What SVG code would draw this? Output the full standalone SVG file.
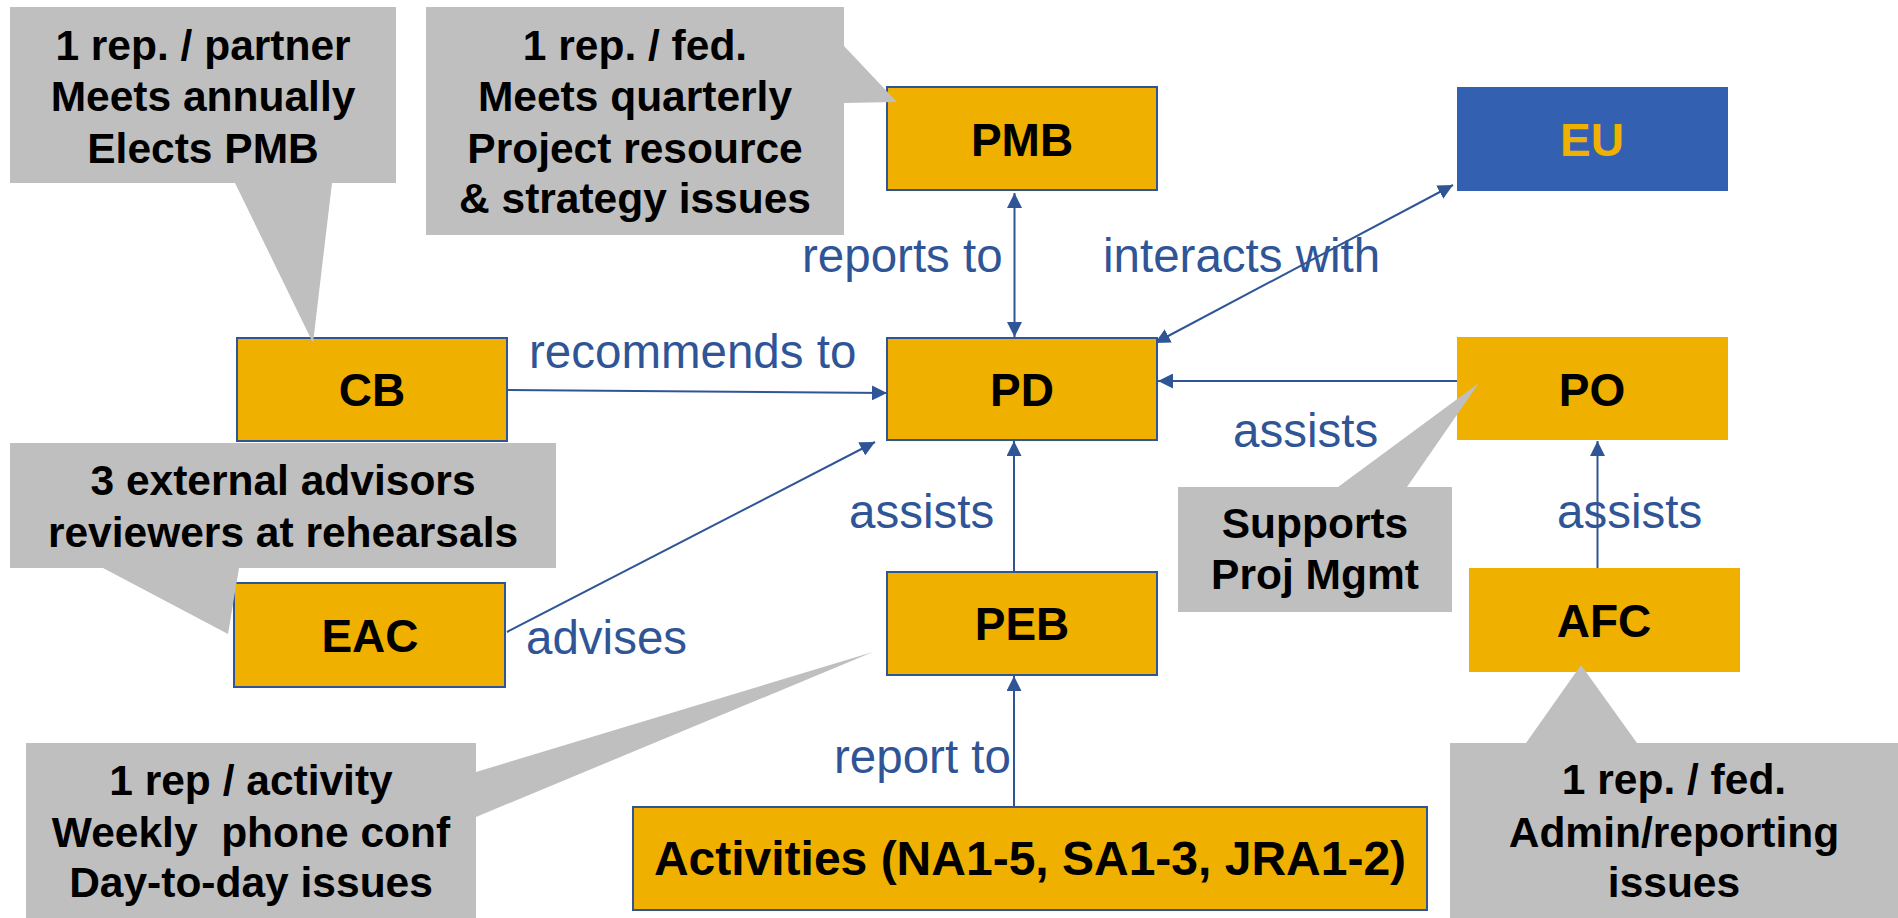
<svg xmlns="http://www.w3.org/2000/svg" width="1898" height="918" viewBox="0 0 1898 918">
<style>
.box{fill:#F0B000;stroke:#2F5597;stroke-width:2}
.boxnb{fill:#F0B000}
.eu{fill:#3360B0}
.nt{font-family:"Liberation Sans",Arial,sans-serif;font-weight:bold;font-size:46px;fill:#000;text-anchor:middle}
.eut{fill:#F0B000}
.call{fill:#BFBFBF}
.ct{font-family:"Liberation Sans",Arial,sans-serif;font-weight:bold;font-size:42.5px;fill:#000;text-anchor:middle}
.lbl{font-family:"Liberation Sans",Arial,sans-serif;font-size:47.5px;fill:#2F5597}
.conn{stroke:#2F5597;stroke-width:2;fill:none}
</style>
<defs>
<marker id="ah" markerUnits="userSpaceOnUse" markerWidth="15" markerHeight="15" refX="15" refY="7.5" orient="auto-start-reverse">
<path d="M0,0 L15,7.5 L0,15 Z" fill="#2F5597"/>
</marker>
</defs>
<rect width="1898" height="918" fill="#fff"/>

<g id="connectors">
<line class="conn" x1="1014.5" y1="193" x2="1014.5" y2="337" marker-start="url(#ah)" marker-end="url(#ah)"/>
<line class="conn" x1="1155" y1="343" x2="1453" y2="185" marker-start="url(#ah)" marker-end="url(#ah)"/>
<line class="conn" x1="508" y1="390" x2="887" y2="393" marker-end="url(#ah)"/>
<line class="conn" x1="507" y1="632" x2="875" y2="442" marker-end="url(#ah)"/>
<line class="conn" x1="1457" y1="381" x2="1158" y2="381" marker-end="url(#ah)"/>
<line class="conn" x1="1014" y1="572" x2="1014" y2="441" marker-end="url(#ah)"/>
<line class="conn" x1="1014" y1="807" x2="1014" y2="676" marker-end="url(#ah)"/>
<line class="conn" x1="1597.5" y1="569" x2="1597.5" y2="441" marker-end="url(#ah)"/>
<text class="lbl" x="802" y="272">reports to</text>
<text class="lbl" x="1103" y="272">interacts with</text>
<text class="lbl" x="529" y="368">recommends to</text>
<text class="lbl" x="526" y="654">advises</text>
<text class="lbl" x="849" y="528">assists</text>
<text class="lbl" x="1233" y="447">assists</text>
<text class="lbl" x="1557" y="528">assists</text>
<text class="lbl" x="834" y="773">report to</text>
</g>

<g id="PMB"><rect class="box" x="887" y="87" width="270" height="103"/><text class="nt" x="1022" y="156">PMB</text></g>
<g id="EU"><rect class="eu" x="1457" y="87" width="271" height="104"/><text class="nt eut" x="1592" y="156">EU</text></g>
<g id="CB"><rect class="box" x="237" y="338" width="270" height="103"/><text class="nt" x="372" y="406">CB</text></g>
<g id="PD"><rect class="box" x="887" y="338" width="270" height="102"/><text class="nt" x="1022" y="406">PD</text></g>
<g id="PO"><rect class="boxnb" x="1457" y="337" width="271" height="103"/><text class="nt" x="1592" y="406">PO</text></g>
<g id="EAC"><rect class="box" x="234" y="583" width="271" height="104"/><text class="nt" x="370" y="652">EAC</text></g>
<g id="PEB"><rect class="box" x="887" y="572" width="270" height="103"/><text class="nt" x="1022" y="640">PEB</text></g>
<g id="AFC"><rect class="boxnb" x="1469" y="568" width="271" height="104"/><text class="nt" x="1604" y="637">AFC</text></g>
<g id="Activities"><rect class="box" x="633" y="807" width="794" height="103"/><text class="nt" x="1030" y="875" style="font-size:48px">Activities (NA1-5, SA1-3, JRA1-2)</text></g>

<g id="callout-CB">
<path class="call" d="M10,7 H396 V183 H332 L313,343 L235,183 H10 Z"/>
<text class="ct" x="203" y="60">1 rep. / partner</text>
<text class="ct" x="203" y="111">Meets annually</text>
<text class="ct" x="203" y="163">Elects PMB</text>
</g>
<g id="callout-PMB">
<path class="call" d="M426,7 H844 V46 L897,102 L844,103 V235 H426 Z"/>
<text class="ct" x="635" y="60">1 rep. / fed.</text>
<text class="ct" x="635" y="111">Meets quarterly</text>
<text class="ct" x="635" y="163">Project resource</text>
<text class="ct" x="635" y="213">&amp; strategy issues</text>
</g>
<g id="callout-EAC">
<path class="call" d="M10,443 H556 V568 H239 L228,634 L103,568 H10 Z"/>
<text class="ct" x="283" y="495">3 external advisors</text>
<text class="ct" x="283" y="547">reviewers at rehearsals</text>
</g>
<g id="callout-PEB">
<path class="call" d="M26,743 H476 V772 L873,652 L476,817 V918 H26 Z"/>
<text class="ct" x="251" y="795">1 rep / activity</text>
<text class="ct" x="251" y="847" xml:space="preserve">Weekly  phone conf</text>
<text class="ct" x="251" y="897">Day-to-day issues</text>
</g>
<g id="callout-PO">
<path class="call" d="M1178,487 H1338 L1479,383 L1407,487 H1452 V612 H1178 Z"/>
<text class="ct" x="1315" y="538">Supports</text>
<text class="ct" x="1315" y="589">Proj Mgmt</text>
</g>
<g id="callout-AFC">
<path class="call" d="M1450,743 H1526 L1581,665 L1637,743 H1898 V918 H1450 Z"/>
<text class="ct" x="1674" y="794">1 rep. / fed.</text>
<text class="ct" x="1674" y="847">Admin/reporting</text>
<text class="ct" x="1674" y="897">issues</text>
</g>
</svg>
